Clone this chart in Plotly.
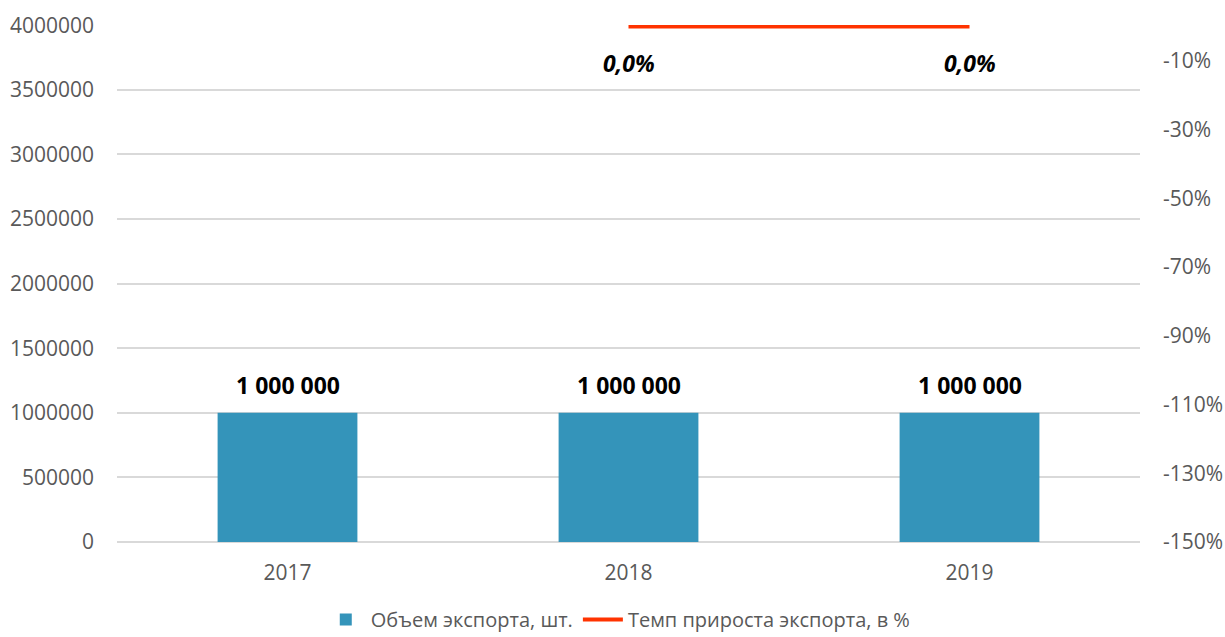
import plotly.graph_objects as go

years = ["2017", "2018", "2019"]
export_volume = [1000000, 1000000, 1000000]
growth_rate = [None, 0.0, 0.0]

left_ticks = [0, 500000, 1000000, 1500000, 2000000, 2500000, 3000000, 3500000, 4000000]
right_ticks = [-1.5, -1.3, -1.1, -0.9, -0.7, -0.5, -0.3, -0.1]

BAR_COLOR = "#3494ba"
LINE_COLOR = "#ff3300"
TEXT_GREY = "#595959"
GRID = "#d9d9d9"
FONT = "Open Sans"


def fmt_volume(v):
    return f"{v:,}".replace(",", " ")


def fmt_growth(v):
    return f"{v * 100:.1f}%".replace(".", ",")


fig = go.Figure()
fig.add_trace(go.Bar(
    x=years, y=export_volume,
    name="Объем экспорта, шт.",
    marker=dict(color=BAR_COLOR, line=dict(width=0)),
))
fig.add_trace(go.Scatter(
    x=years, y=growth_rate,
    name="Темп прироста экспорта, в %",
    mode="lines",
    line=dict(color=LINE_COLOR, width=4),
    yaxis="y2",
))

# на категориальной оси аннотации ставим по индексу категории
for i, v in enumerate(export_volume):
    fig.add_annotation(
        x=i, y=v, xref="x", yref="y",
        text=f"<b>{fmt_volume(v)}</b>",
        showarrow=False, yanchor="middle", yshift=28,
        font=dict(family=FONT, size=23, color="black"),
    )

for i, v in enumerate(growth_rate):
    if v is None:
        continue
    fig.add_annotation(
        x=i, y=v, xref="x", yref="y2",
        text=f"<b><i>{fmt_growth(v)}</i></b>",
        showarrow=False, yanchor="middle", yshift=-37,
        font=dict(family=FONT, size=23, color="black"),
    )

fig.update_layout(
    width=1225, height=637,
    margin=dict(l=117, r=85, t=25, b=95, autoexpand=False),
    paper_bgcolor="white", plot_bgcolor="white",
    font=dict(family=FONT, size=21, color=TEXT_GREY),
    bargap=0.59,
    showlegend=True,
    legend=dict(
        orientation="h", x=0.49, xanchor="center", y=-0.112, yanchor="top",
        font=dict(family=FONT, size=20, color=TEXT_GREY),
        itemwidth=40, traceorder="normal",
    ),
    xaxis=dict(
        type="category", categoryorder="array", categoryarray=years,
        range=[-0.5, len(years) - 0.5], automargin=False,
        showgrid=False, zeroline=False, showline=False,
        ticks="", ticklabelstandoff=16,
    ),
    yaxis=dict(
        range=[0, 4002000], tickvals=left_ticks, tickformat="d", automargin=False,
        showgrid=True, gridcolor=GRID, gridwidth=1.5,
        zeroline=True, zerolinecolor=GRID, zerolinewidth=1.5,
        showline=False, ticks="", ticklabelstandoff=22,
    ),
    yaxis2=dict(
        overlaying="y", side="right", automargin=False,
        range=[-1.5, 0.004], tickvals=right_ticks,
        ticktext=[f"{round(v * 100)}%" for v in right_ticks],
        showgrid=False, zeroline=False, showline=False,
        ticks="", ticklabelstandoff=22,
    ),
)

# убираем стандартный отступ body, чтобы график занял всё окно
fig.write_html(
    "out.html",
    config={"displayModeBar": False},
    post_script="document.body.style.margin='0px';",
)
